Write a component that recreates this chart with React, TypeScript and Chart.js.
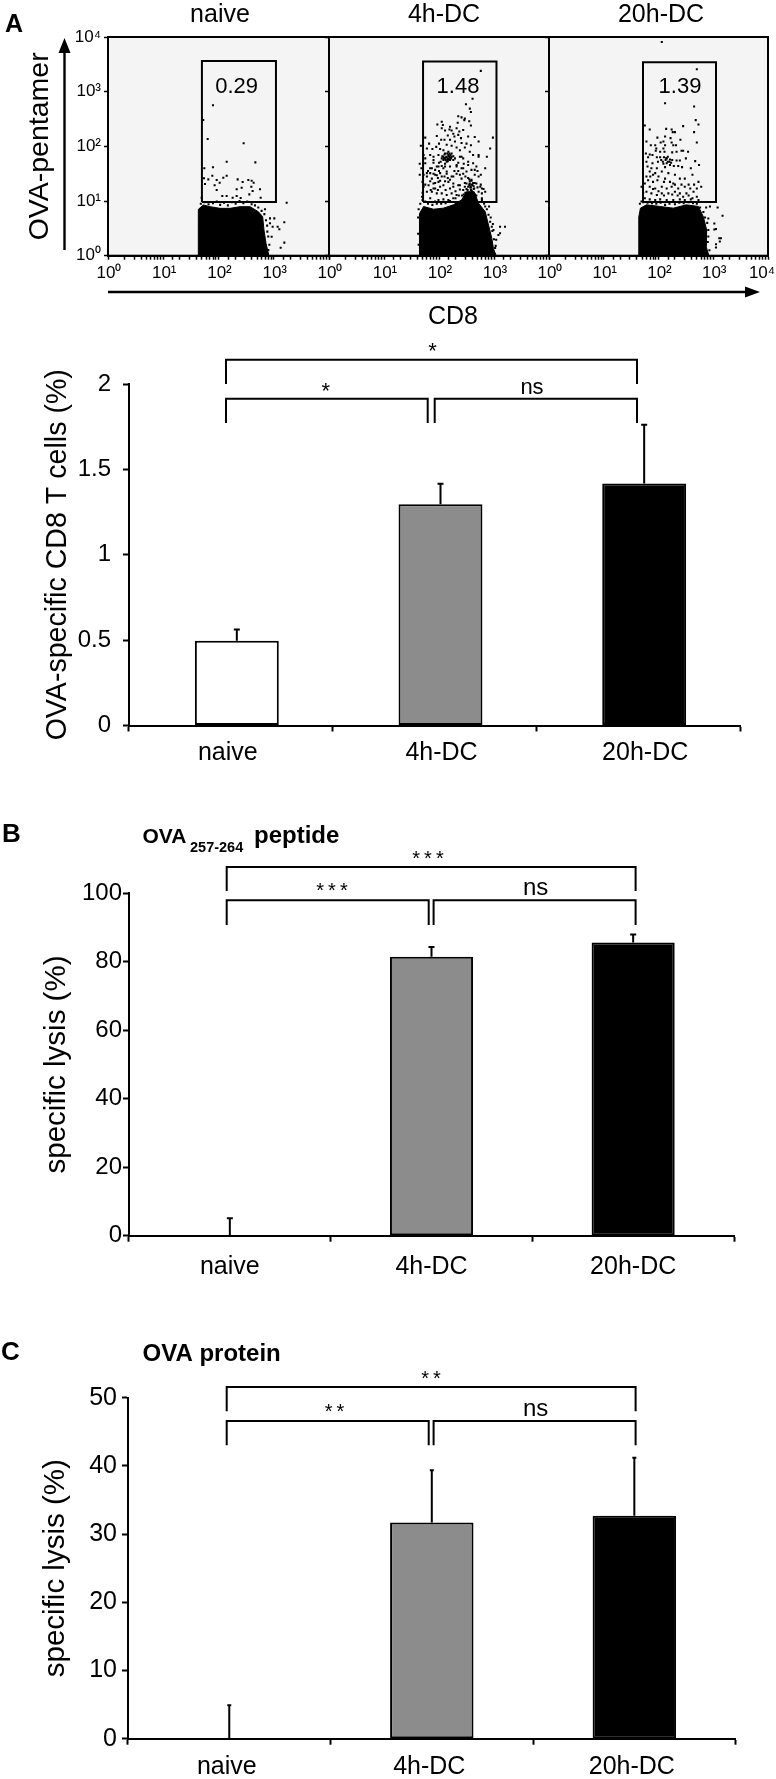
import React, { useEffect, useRef } from "react";
import { Chart, registerables } from "chart.js";

Chart.register(...registerables);

const FONT = "'Liberation Sans', Arial, sans-serif";
Chart.defaults.font.family = FONT;
Chart.defaults.color = "#000";

/* ---------- bar panels ---------- */
const categories = ["naive", "4h-DC", "20h-DC"];
const barColours = ["#ffffff", "#8c8c8c", "#000000"];

const cd8Values = [0.497, 1.296, 1.417];
const cd8Errors = [0.065, 0.12, 0.345];
const cd8Ticks = [0, 0.5, 1, 1.5, 2];

const peptideValues = [0, 81.5, 85.6];
const peptideErrors = [5.1, 2.8, 2.4];
const peptideTicks = [0, 20, 40, 60, 80, 100];

const proteinValues = [0, 31.7, 32.7];
const proteinErrors = [4.9, 7.65, 8.5];
const proteinTicks = [0, 10, 20, 30, 40, 50];

/* ---------- flow panels: [log10 CD8, log10 pentamer] ---------- */
const flowLabels = ["naive", "4h-DC", "20h-DC"];
const gatePercent = ["0.29", "1.48", "1.39"];
const decadeLabels = ["10⁰", "10¹", "10²", "10³", "10⁴"];

const naiveGate = [[1.70, 0.98], [3.04, 0.98], [3.04, 3.56], [1.70, 3.56], [1.70, 0.98]];
const dcGate4h = [[1.71, 0.98], [3.045, 0.98], [3.045, 3.55], [1.71, 3.55], [1.71, 0.98]];
const dcGate20h = [[1.717, 0.98], [3.05, 0.98], [3.05, 3.54], [1.717, 3.54], [1.717, 0.98]];

const naiveCloud = [[1.635, 0], [1.635, 0.848], [1.725, 0.927], [1.846, 0.897], [2.027, 0.866], [2.208, 0.866], [2.389, 0.897], [2.57, 0.897], [2.721, 0.805], [2.799, 0.714], [2.823, 0.47], [2.86, 0.226], [2.902, 0.044], [2.902, 0]];
const dc4hCloud = [[1.64, 0], [1.64, 0.59], [1.65, 0.77], [1.72, 0.9], [1.9, 0.85], [2.08, 0.87], [2.26, 0.93], [2.41, 1.02], [2.5, 1.17], [2.64, 1.17], [2.72, 0.96], [2.84, 0.805], [2.9, 0.56], [2.96, 0.32], [2.99, 0.13], [3.04, 0]];
const dc20hCloud = [[1.64, 0], [1.64, 0.71], [1.67, 0.87], [1.78, 0.93], [2.03, 0.9], [2.27, 0.87], [2.51, 0.93], [2.73, 0.9], [2.82, 0.71], [2.88, 0.47], [2.87, 0.17], [2.92, 0]];

const naiveDots = [
  [1.9, 2.75], [1.725, 2.481], [1.804, 2.134], [2.455, 2.055], [2.148, 1.719], [2.667, 1.707], [1.743, 1.598], [1.9, 1.616], [1.737, 1.415], [1.816, 1.396], [1.888, 1.464], [1.967, 1.384], [2.087, 1.427], [2.148, 1.464], [2.021, 1.336], [1.755, 1.311], [1.93, 1.287], [2.347, 1.396], [2.437, 1.348], [2.54, 1.384], [2.6, 1.372], [2.636, 1.336], [2.329, 1.214], [2.419, 1.244], [2.594, 1.262], [2.751, 1.214], [1.967, 1.201], [2.618, 1.183], [2.558, 1.122], [2.069, 1.092], [2.148, 1.092], [2.329, 1.092], [2.256, 1.061], [2.401, 1.055], [2.763, 1.061], [3.234, 0.97], [1.695, 1.061], [2.841, 0.848], [2.932, 0.683], [3.01, 0.683], [3.191, 0.61], [2.98, 0.531], [3.071, 0.531], [3.101, 0.482], [2.962, 0.348], [3.191, 0.239], [3.125, 0.147], [2.902, 0.105], [2.932, 0.592], [2.884, 0.44],
  [1.68, 0.95], [1.75, 0.98], [1.82, 0.94], [1.9, 0.96], [1.97, 0.99], [2.03, 0.93], [2.1, 0.97], [2.17, 0.92], [2.24, 0.98], [2.31, 0.95], [2.38, 1.0], [2.45, 0.96], [2.52, 0.99], [2.6, 0.94], [2.66, 0.92], [2.72, 0.88], [2.78, 0.82], [2.83, 0.76], [2.86, 0.65], [2.88, 0.55], [2.9, 0.35], [2.92, 0.2],
];

const dc4hDots = [
  [2.76, 3.38], [2.61, 2.87], [2.49, 2.77], [2.56, 2.69], [2.58, 2.63], [2.35, 2.55], [2.41, 2.53], [2.47, 2.51], [2.55, 2.46], [2.34, 2.43], [2.58, 2.38], [2.46, 2.48], [2.05, 2.45], [1.97, 2.4], [2.07, 2.39], [2.2, 2.36], [2.05, 2.33], [2.11, 2.29], [2.19, 2.31], [2.23, 2.29], [2.32, 2.33], [2.37, 2.27], [2.44, 2.3], [2.26, 2.23], [2.35, 2.21], [2.53, 2.18], [2.65, 2.17], [2.72, 2.09], [2.98, 2.16], [2.93, 1.96], [2.87, 1.81], [1.75, 2.16], [1.96, 2.19], [2.04, 2.12], [1.67, 2.01], [1.78, 1.96], [2.2, 2.12], [2.29, 2.09], [2.41, 2.06], [2.14, 2.03], [2.23, 2.01], [2.32, 1.98], [2.38, 1.93], [2.47, 1.98], [2.56, 1.9], [2.62, 1.84], [2.72, 1.81], [1.95, 1.99], [2.02, 1.95], [2.08, 1.93], [1.84, 1.84], [1.9, 1.81], [1.99, 1.84], [1.72, 1.84], [1.75, 1.78], [1.65, 1.68],
  [2.11, 1.87], [2.17, 1.9], [2.23, 1.87], [2.14, 1.81], [2.2, 1.8], [2.26, 1.82], [2.05, 1.78], [2.08, 1.75], [2.14, 1.72], [2.2, 1.75], [2.26, 1.75], [2.11, 1.78], [2.17, 1.84], [2.19, 1.87], [2.15, 1.76], [2.23, 1.81], [2.08, 1.81], [2.03, 1.72], [2.11, 1.68],
  [2.38, 1.81], [2.44, 1.78], [2.53, 1.72], [2.62, 1.69], [2.68, 1.63], [2.84, 1.6], [2.76, 1.48], [1.87, 1.6], [1.93, 1.57], [1.99, 1.63], [2.05, 1.64], [2.11, 1.63], [1.84, 1.51], [1.93, 1.48], [2.02, 1.51], [2.14, 1.54], [2.32, 1.63], [2.41, 1.6], [2.5, 1.54], [2.59, 1.57], [2.65, 1.48], [2.38, 1.48], [2.26, 1.45], [2.2, 1.39], [1.78, 1.45], [1.72, 1.48], [1.65, 1.48], [1.84, 1.36], [1.93, 1.33], [2.02, 1.37], [2.11, 1.36], [2.53, 1.42], [2.59, 1.39], [2.47, 1.33], [2.56, 1.29], [2.65, 1.33], [2.75, 1.26], [2.81, 1.22], [2.38, 1.29], [2.26, 1.26], [1.9, 1.23], [1.75, 1.3],
  [1.87, 1.17], [1.78, 1.17], [1.96, 1.14], [2.05, 1.14], [2.14, 1.11], [2.23, 1.14], [2.32, 1.11], [1.69, 1.08], [1.84, 1.05], [1.99, 1.02], [2.08, 1.03], [2.17, 1.02], [2.72, 1.17], [2.78, 1.14], [2.84, 1.17], [2.62, 1.14], [2.26, 1.05], [1.75, 0.99], [1.93, 0.99],
  [2.55, 1.4], [2.59, 1.37], [2.56, 1.32], [2.61, 1.29], [2.53, 1.26], [2.62, 1.33], [2.47, 1.26], [2.5, 1.32], [2.58, 1.25], [2.64, 1.23],
  [1.9, 1.32], [1.99, 1.35], [2.08, 1.29], [2.17, 1.35], [2.26, 1.32], [2.35, 1.29], [1.81, 1.29], [1.72, 1.26], [1.87, 1.41], [1.96, 1.47], [2.05, 1.45], [2.14, 1.5], [2.23, 1.45], [2.32, 1.5], [2.41, 1.41], [1.78, 1.51], [1.84, 1.6], [1.96, 1.63], [2.08, 1.6], [2.2, 1.63], [2.32, 1.66], [2.44, 1.6], [2.53, 1.66], [2.65, 1.57], [1.75, 1.69], [1.9, 1.75], [2.29, 1.78], [2.41, 1.81], [2.72, 1.45], [2.78, 1.23], [2.68, 1.32], [2.72, 1.84], [2.02, 1.26], [2.2, 1.23], [2.38, 1.21], [1.93, 1.23],
  [2.91, 0.9], [2.84, 0.9], [3.11, 0.53], [3.2, 0.53], [3.11, 0.41], [3.08, 0.38], [2.99, 0.47], [2.96, 0.53], [3.04, 0.29], [3.02, 0.14],
  [2.9, 0.75], [2.93, 0.62], [2.97, 0.45], [3.0, 0.3], [3.03, 0.18], [2.78, 1.02], [2.82, 0.95], [2.87, 0.85], [2.94, 0.7], [2.98, 0.58], [1.62, 0.7], [1.63, 0.85], [1.66, 0.95], [1.7, 1.02], [1.62, 0.4], [1.63, 0.2], [1.8, 0.95], [1.88, 0.93], [1.96, 0.95], [2.04, 0.95], [2.12, 0.96], [2.2, 1.0], [2.3, 1.05], [2.36, 1.1], [2.44, 1.2], [2.5, 1.22], [2.57, 1.25], [2.63, 1.22], [2.68, 1.1], [2.45, 1.12],
  [2.13, 1.8], [2.16, 1.78], [2.18, 1.82], [2.12, 1.75], [2.16, 1.73], [2.18, 1.77], [2.21, 1.84], [2.09, 1.78], [2.06, 1.82], [2.1, 1.85], [2.15, 1.87], [2.22, 1.78], [2.56, 1.36], [2.6, 1.3], [2.55, 1.3], [2.63, 1.27], [2.58, 1.2], [2.52, 1.2], [2.6, 1.18], [2.55, 1.15], [2.48, 1.15], [2.65, 1.12],
  [1.8, 1.55], [1.9, 1.5], [1.98, 1.42], [2.0, 1.55], [2.1, 1.45], [2.16, 1.42], [2.28, 1.55], [2.35, 1.55], [2.44, 1.5], [2.48, 1.45], [2.7, 1.55], [1.68, 1.6], [1.7, 1.35], [1.7, 1.15], [1.85, 1.2], [1.98, 1.2], [2.12, 1.2], [2.3, 1.18], [2.42, 1.1], [2.7, 1.25], [2.76, 1.3], [2.78, 1.05], [1.88, 1.95], [1.82, 2.05], [2.0, 2.05], [2.1, 2.12], [2.16, 2.2], [2.28, 2.18], [2.4, 2.15], [2.5, 2.05], [2.58, 2.02], [1.9, 1.7], [2.0, 1.7], [2.35, 1.7], [2.45, 1.68],
];

const dc20hDots = [
  [2.06, 3.91], [2.7, 3.41], [2.12, 2.79], [2.65, 2.73], [2.68, 2.48], [2.73, 2.4], [1.75, 2.38], [1.84, 2.31], [2.14, 2.32], [2.24, 2.31], [2.45, 2.37], [2.26, 2.26], [2.3, 2.26], [2.65, 2.26], [2.12, 2.18], [1.98, 2.16], [2.22, 2.15], [2.4, 2.12], [1.78, 2.09], [2.09, 2.09], [2.04, 2.07], [2.24, 2.07], [2.7, 2.07], [1.86, 2.02], [1.94, 2.02], [2.12, 2.02], [2.27, 2.02], [2.32, 2.02], [1.96, 1.96], [2.09, 1.96], [1.95, 1.92], [2.03, 1.9], [2.11, 1.9], [2.25, 1.89], [2.33, 1.9], [2.42, 1.92], [2.45, 1.92], [2.54, 1.9], [1.77, 1.87], [1.84, 1.85], [1.89, 1.84], [1.97, 1.8], [2.03, 1.8], [1.81, 1.8], [2.14, 1.78], [2.17, 1.81], [2.21, 1.76], [2.25, 1.75], [2.33, 1.74], [2.39, 1.74], [2.5, 1.78], [2.67, 1.73], [1.78, 1.72], [1.89, 1.69], [1.99, 1.72], [2.09, 1.68], [2.15, 1.69], [2.21, 1.66], [2.28, 1.64], [2.36, 1.64], [2.43, 1.62], [2.59, 1.6], [2.74, 1.66], [1.87, 1.6], [1.97, 1.6], [2.12, 1.62], [1.8, 1.63],
  [1.84, 1.54], [1.94, 1.51], [2.06, 1.54], [2.18, 1.51], [2.3, 1.48], [2.39, 1.41], [2.48, 1.41], [2.62, 1.48], [2.73, 1.35], [2.78, 1.26], [2.7, 1.23], [1.81, 1.38], [1.9, 1.35], [1.98, 1.38], [2.12, 1.41], [2.21, 1.35], [2.27, 1.32], [1.75, 1.32], [1.69, 1.26], [1.84, 1.26], [1.94, 1.23], [2.06, 1.26], [2.15, 1.23], [2.24, 1.26], [2.36, 1.23], [2.48, 1.26], [2.58, 1.23], [2.64, 1.17], [1.78, 1.17], [1.87, 1.14], [1.97, 1.11], [2.06, 1.14], [2.18, 1.14], [2.3, 1.17], [2.39, 1.14], [2.51, 1.14], [2.7, 1.08], [1.75, 1.05], [1.84, 1.03], [1.94, 1.02], [2.03, 1.03], [2.15, 1.02], [2.27, 1.02], [2.39, 1.03], [2.48, 1.02], [2.59, 1.03], [2.73, 1.02], [1.69, 0.99],
  [2.87, 0.88], [2.94, 0.9], [3.08, 0.88], [3.17, 0.73], [3.02, 0.59], [3.05, 0.49], [3.02, 0.48], [3.11, 0.32], [3.14, 0.32], [3.12, 0.26], [3.05, 0.21], [3.05, 0.15], [2.91, 0.68], [2.91, 0.47],
  [1.66, 0.95], [1.72, 0.98], [1.8, 0.97], [1.88, 0.96], [1.96, 0.95], [2.04, 0.97], [2.12, 0.93], [2.2, 0.95], [2.3, 0.94], [2.38, 0.97], [2.46, 0.96], [2.55, 0.98], [2.63, 0.96], [2.7, 0.95], [2.76, 0.88], [2.82, 0.8], [2.85, 0.7], [2.89, 0.6], [2.91, 0.35], [2.9, 0.25], [2.93, 0.1],
  [2.13, 1.75], [2.17, 1.72], [2.1, 1.8], [2.2, 1.72], [2.15, 1.78], [2.05, 1.75], [2.08, 1.72], [2.23, 1.7], [1.9, 1.48], [2.0, 1.45], [2.1, 1.35], [2.3, 1.3], [2.42, 1.3], [2.55, 1.3], [2.65, 1.3], [1.78, 1.45], [1.85, 1.45], [1.72, 1.15], [1.9, 1.22], [2.0, 1.18], [2.1, 1.1], [2.25, 1.12], [2.35, 1.1], [2.45, 1.08], [2.55, 1.1], [2.62, 1.05],
];

/* ---------- page overlay (brackets, arrows, headings) ---------- */
type T = { text: string; x: number; y: number; size: number; bold?: boolean; align?: CanvasTextAlign; spacing?: number };
type Bracket = [number, number, number, number];

const flowTexts: T[] = [
  { text: "A", x: 5, y: 32, size: 25, bold: true, align: "left" },
  { text: flowLabels[0], x: 220, y: 22, size: 25 },
  { text: flowLabels[1], x: 444, y: 22, size: 25 },
  { text: flowLabels[2], x: 661, y: 22, size: 25 },
  { text: gatePercent[0], x: 236.6, y: 93, size: 22 },
  { text: "CD8", x: 453, y: 324, size: 25 },
];
const flowTexts4h: T[] = [{ text: gatePercent[1], x: 458, y: 93, size: 22 }];
const flowTexts20h: T[] = [{ text: gatePercent[2], x: 680, y: 93, size: 22 }];

const cd8Brackets: Bracket[] = [[226, 637, 359.7, 384], [226, 427.7, 398.7, 423], [434.7, 637, 398.7, 423]];
const cd8Texts: T[] = [
  { text: "*", x: 432.6, y: 358, size: 22 },
  { text: "*", x: 325.7, y: 398, size: 22 },
  { text: "ns", x: 532, y: 394, size: 22 },
];

const peptideBrackets: Bracket[] = [[226.7, 635.6, 867, 891], [226.7, 428.7, 900.3, 925], [433.6, 635.6, 900.3, 925]];
const peptideTexts: T[] = [
  { text: "B", x: 2, y: 842, size: 26, bold: true, align: "left" },
  { text: "OVA", x: 142.5, y: 843, size: 21, bold: true, align: "left" },
  { text: "257-264", x: 190, y: 852, size: 14.5, bold: true, align: "left" },
  { text: "peptide", x: 254, y: 843, size: 24, bold: true, align: "left" },
  { text: "***", x: 430, y: 865, size: 20, spacing: 4 },
  { text: "***", x: 334, y: 897, size: 20, spacing: 4 },
  { text: "ns", x: 535.6, y: 895, size: 24 },
];

const proteinBrackets: Bracket[] = [[226.7, 635.6, 1387, 1411.3], [226.7, 428.7, 1421, 1445.3], [433.6, 635.6, 1421, 1445.3]];
const proteinTexts: T[] = [
  { text: "C", x: 1, y: 1360, size: 26, bold: true, align: "left" },
  { text: "OVA protein", x: 142.5, y: 1361, size: 24, bold: true, align: "left" },
  { text: "**", x: 433, y: 1385, size: 20, spacing: 4 },
  { text: "**", x: 336.6, y: 1418, size: 20, spacing: 4 },
  { text: "ns", x: 535.6, y: 1416, size: 24 },
];

const drawTexts = (ctx: CanvasRenderingContext2D, texts: T[]) => {
  texts.forEach((t) => {
    ctx.save();
    ctx.fillStyle = "#000";
    ctx.font = `${t.bold ? "bold " : ""}${t.size}px ${FONT}`;
    ctx.textAlign = t.align || "center";
    ctx.textBaseline = "alphabetic";
    if (t.spacing) (ctx as any).letterSpacing = `${t.spacing}px`;
    ctx.fillText(t.text, t.x, t.y);
    ctx.restore();
  });
};

const drawBrackets = (ctx: CanvasRenderingContext2D, brackets: Bracket[]) => {
  ctx.save();
  ctx.strokeStyle = "#000";
  ctx.lineWidth = 2;
  brackets.forEach(([x1, x2, yTop, yDrop]) => {
    ctx.beginPath();
    ctx.moveTo(x1, yDrop);
    ctx.lineTo(x1, yTop);
    ctx.lineTo(x2, yTop);
    ctx.lineTo(x2, yDrop);
    ctx.stroke();
  });
  ctx.restore();
};

const drawArrows = (ctx: CanvasRenderingContext2D) => {
  ctx.save();
  ctx.strokeStyle = "#000";
  ctx.fillStyle = "#000";
  ctx.lineWidth = 2.4;
  ctx.beginPath();
  ctx.moveTo(108, 292);
  ctx.lineTo(748, 292);
  ctx.moveTo(64.5, 250);
  ctx.lineTo(64.5, 50);
  ctx.stroke();
  ctx.beginPath();
  ctx.moveTo(760, 292);
  ctx.lineTo(745, 286.5);
  ctx.lineTo(745, 297.5);
  ctx.closePath();
  ctx.moveTo(64.5, 38);
  ctx.lineTo(58.5, 53);
  ctx.lineTo(70.5, 53);
  ctx.closePath();
  ctx.fill();
  ctx.restore();
};

const isDecade = (v: number) => Math.abs(Math.log10(v) - Math.round(Math.log10(v))) < 1e-9;

const fixedArea = (rect: { l: number; t: number; r: number; b: number }, yw: number, xh: number) => ({
  autoPadding: false,
  padding: { left: rect.l - yw, top: rect.t, right: 776 - rect.r, bottom: 1779 - rect.b - xh },
});

const toPoints = (rows: number[][]) => rows.map(([a, b]) => ({ x: 10 ** a, y: 10 ** b }));

function makeFlow(
  canvas: HTMLCanvasElement,
  rect: { l: number; t: number; r: number; b: number },
  gate: number[][],
  cloud: number[][],
  dots: number[][],
  opts: { yLabels: boolean; lastLabel: boolean; texts?: T[]; arrows?: boolean; yTitle?: string },
) {
  const yw = 85;
  const xh = 40;
  return new Chart(canvas, {
    type: "scatter",
    data: {
      datasets: [
        { data: toPoints(gate), showLine: true, borderColor: "#000", borderWidth: 2, pointRadius: 0, fill: false, order: 0 },
        { data: toPoints(cloud), showLine: true, borderColor: "#000", backgroundColor: "#000", borderWidth: 1, pointRadius: 0, fill: "shape", order: 2 },
        { data: toPoints(dots), showLine: false, pointStyle: "rect", pointRadius: 1.45, borderWidth: 0, backgroundColor: "#000", order: 1 },
      ],
    } as any,
    options: {
      animation: false,
      responsive: false,
      devicePixelRatio: 1,
      layout: fixedArea(rect, yw, xh),
      plugins: { legend: { display: false }, tooltip: { enabled: false } },
      scales: {
        x: {
          type: "logarithmic",
          min: 1,
          max: 10000,
          border: { color: "#000", width: 2 },
          grid: { drawOnChartArea: false, tickLength: 4, tickColor: "#000", tickWidth: 1.5 },
          afterFit: (s: any) => { s.height = xh; s.paddingLeft = 0; s.paddingRight = 0; },
          ticks: {
            autoSkip: false,
            maxRotation: 0,
            padding: 3,
            color: "#000",
            font: { size: 17 },
            callback: (v: any) => {
              const n = Number(v);
              if (!isDecade(n)) return "";
              const e = Math.round(Math.log10(n));
              if (e === 4 && !opts.lastLabel) return "";
              return decadeLabels[e];
            },
          },
        },
        y: {
          type: "logarithmic",
          min: 1,
          max: 10000,
          border: { color: "#000", width: 2 },
          grid: { drawOnChartArea: false, tickLength: 4, tickColor: "#000", tickWidth: 1.5 },
          afterBuildTicks: (s: any) => { s.ticks = s.ticks.filter((t: any) => isDecade(t.value)); },
          afterFit: (s: any) => { s.width = yw; s.paddingTop = 0; s.paddingBottom = 0; },
          title: opts.yTitle
            ? { display: true, text: opts.yTitle, color: "#000", font: { size: 28.5 }, padding: 0 }
            : { display: false },
          ticks: {
            display: opts.yLabels,
            autoSkip: false,
            padding: 3,
            color: "#000",
            font: { size: 17 },
            callback: (v: any) => decadeLabels[Math.round(Math.log10(Number(v)))],
          },
        },
      },
    } as any,
    plugins: [
      {
        id: "flowFrame",
        beforeDraw(chart: any) {
          chart.scales.x.getLabelItems(chart.chartArea).forEach((it: any) => {
            if (it._moved) return;
            it._moved = true;
            if (it.label === decadeLabels[4]) it.options.translation[0] -= 6;
            else it.options.translation[0] += 1;
          });
        },
        beforeDatasetsDraw(chart: any) {
          const { ctx, chartArea: a } = chart;
          ctx.save();
          ctx.fillStyle = "#f4f4f4";
          ctx.fillRect(a.left, a.top, a.right - a.left, a.bottom - a.top);
          ctx.restore();
        },
        afterDraw(chart: any) {
          const { ctx, chartArea: a } = chart;
          ctx.save();
          ctx.strokeStyle = "#000";
          ctx.lineWidth = 2;
          ctx.strokeRect(a.left, a.top, a.right - a.left, a.bottom - a.top);
          ctx.restore();
          if (opts.arrows) drawArrows(ctx);
          if (opts.texts) drawTexts(ctx, opts.texts);
        },
      },
    ] as any,
  });
}

function makeBars(
  canvas: HTMLCanvasElement,
  rect: { l: number; t: number; r: number; b: number },
  values: number[],
  errors: number[],
  yTicks: number[],
  opts: { title: string; titleSize: number; yw: number; tickPad: number; tickSize: number; xPad: number; barShift: number; labelShifts: number[]; capHalf: number; brackets: Bracket[]; texts: T[] },
) {
  const xh = 60;
  return new Chart(canvas, {
    type: "bar",
    data: {
      labels: categories,
      datasets: [
        { data: values, backgroundColor: barColours, borderColor: "#000", borderWidth: 2, borderSkipped: false, barPercentage: 0.412, categoryPercentage: 1 },
      ],
    } as any,
    options: {
      animation: false,
      responsive: false,
      devicePixelRatio: 1,
      layout: fixedArea(rect, opts.yw, xh),
      plugins: { legend: { display: false }, tooltip: { enabled: false } },
      scales: {
        x: {
          type: "category",
          border: { color: "#000", width: 2 },
          grid: { offset: true, drawOnChartArea: false, tickLength: 6, tickColor: "#000", tickWidth: 2 },
          afterFit: (s: any) => { s.height = xh; s.paddingLeft = 0; s.paddingRight = 0; },
          ticks: { autoSkip: false, maxRotation: 0, padding: opts.xPad, color: "#000", font: { size: 25 } },
        },
        y: {
          type: "linear",
          min: yTicks[0],
          max: yTicks[yTicks.length - 1],
          border: { color: "#000", width: 2 },
          grid: { drawOnChartArea: false, tickLength: 6, tickColor: "#000", tickWidth: 2 },
          afterBuildTicks: (s: any) => { s.ticks = yTicks.map((value) => ({ value })); },
          afterFit: (s: any) => { s.width = opts.yw; s.paddingTop = 0; s.paddingBottom = 0; },
          title: { display: true, text: opts.title, color: "#000", font: { size: opts.titleSize }, padding: 0 },
          ticks: { padding: opts.tickPad, color: "#000", font: { size: opts.tickSize }, callback: (v: any) => String(v) },
        },
      },
    } as any,
    plugins: [
      {
        id: "barTweaks",
        afterDatasetsUpdate(chart: any) {
          chart.getDatasetMeta(0).data.forEach((el: any) => { el.x += opts.barShift; });
        },
        beforeDraw(chart: any) {
          const items = chart.scales.x.getLabelItems(chart.chartArea);
          items.forEach((it: any, i: number) => {
            if (it._moved) return;
            it._moved = true;
            it.options.translation[0] += opts.labelShifts[i] || 0;
          });
        },
        afterDatasetsDraw(chart: any) {
          const { ctx } = chart;
          const y = chart.scales.y;
          const meta = chart.getDatasetMeta(0);
          ctx.save();
          ctx.strokeStyle = "#000";
          ctx.lineWidth = 2;
          values.forEach((v, i) => {
            const x = meta.data[i].x;
            const y0 = y.getPixelForValue(v);
            const y1 = y.getPixelForValue(v + errors[i]);
            ctx.beginPath();
            ctx.moveTo(x, y0);
            ctx.lineTo(x, y1);
            ctx.moveTo(x - opts.capHalf, y1);
            ctx.lineTo(x + opts.capHalf, y1);
            ctx.stroke();
          });
          ctx.restore();
        },
        afterDraw(chart: any) {
          drawBrackets(chart.ctx, opts.brackets);
          drawTexts(chart.ctx, opts.texts);
        },
      },
    ] as any,
  });
}

const CANVAS_COUNT = 6;

export default function App() {
  const refs = useRef<(HTMLCanvasElement | null)[]>([]);

  useEffect(() => {
    const c = refs.current as HTMLCanvasElement[];
    const charts = [
      makeFlow(c[0], { l: 108, t: 37, r: 329, b: 255.7 }, naiveGate, naiveCloud, naiveDots, { yLabels: true, lastLabel: false, texts: flowTexts, arrows: true, yTitle: "OVA-pentamer" }),
      makeFlow(c[1], { l: 329, t: 37, r: 549, b: 255.7 }, dcGate4h, dc4hCloud, dc4hDots, { yLabels: false, lastLabel: false, texts: flowTexts4h }),
      makeFlow(c[2], { l: 549, t: 37, r: 768, b: 255.7 }, dcGate20h, dc20hCloud, dc20hDots, { yLabels: false, lastLabel: true, texts: flowTexts20h }),
      makeBars(c[3], { l: 129, t: 384, r: 740, b: 725.5 }, cd8Values, cd8Errors, cd8Ticks, {
        title: "OVA-specific CD8 T cells (%)", titleSize: 28.6, yw: 88, tickPad: 12, tickSize: 24, xPad: 7, barShift: 6, labelShifts: [-3, 7, 7], capHalf: 3, brackets: cd8Brackets, texts: cd8Texts,
      }),
      makeBars(c[4], { l: 129, t: 893.3, r: 734, b: 1235.7 }, peptideValues, peptideErrors, peptideTicks, {
        title: "specific lysis (%)", titleSize: 29.5, yw: 90, tickPad: 1, tickSize: 24, xPad: 10, barShift: 0, labelShifts: [0, 0, 0], capHalf: 3, brackets: peptideBrackets, texts: peptideTexts,
      }),
      makeBars(c[5], { l: 128, t: 1397.7, r: 735.6, b: 1738.7 }, proteinValues, proteinErrors, proteinTicks, {
        title: "specific lysis (%)", titleSize: 29.5, yw: 90, tickPad: 5, tickSize: 25, xPad: 7, barShift: 0, labelShifts: [-2.5, -2.5, -2.5], capHalf: 2, brackets: proteinBrackets, texts: proteinTexts,
      }),
    ];
    return () => charts.forEach((ch) => ch.destroy());
  }, []);

  return (
    <div style={{ position: "absolute", left: 0, top: 0, width: 776, height: 1779, overflow: "hidden", background: "#fff" }}>
      {Array.from({ length: CANVAS_COUNT }, (_, i) => (
        <canvas
          key={i}
          ref={(el) => { refs.current[i] = el; }}
          width={776}
          height={1779}
          style={{ position: "absolute", left: 0, top: 0, width: 776, height: 1779 }}
        />
      ))}
    </div>
  );
}
